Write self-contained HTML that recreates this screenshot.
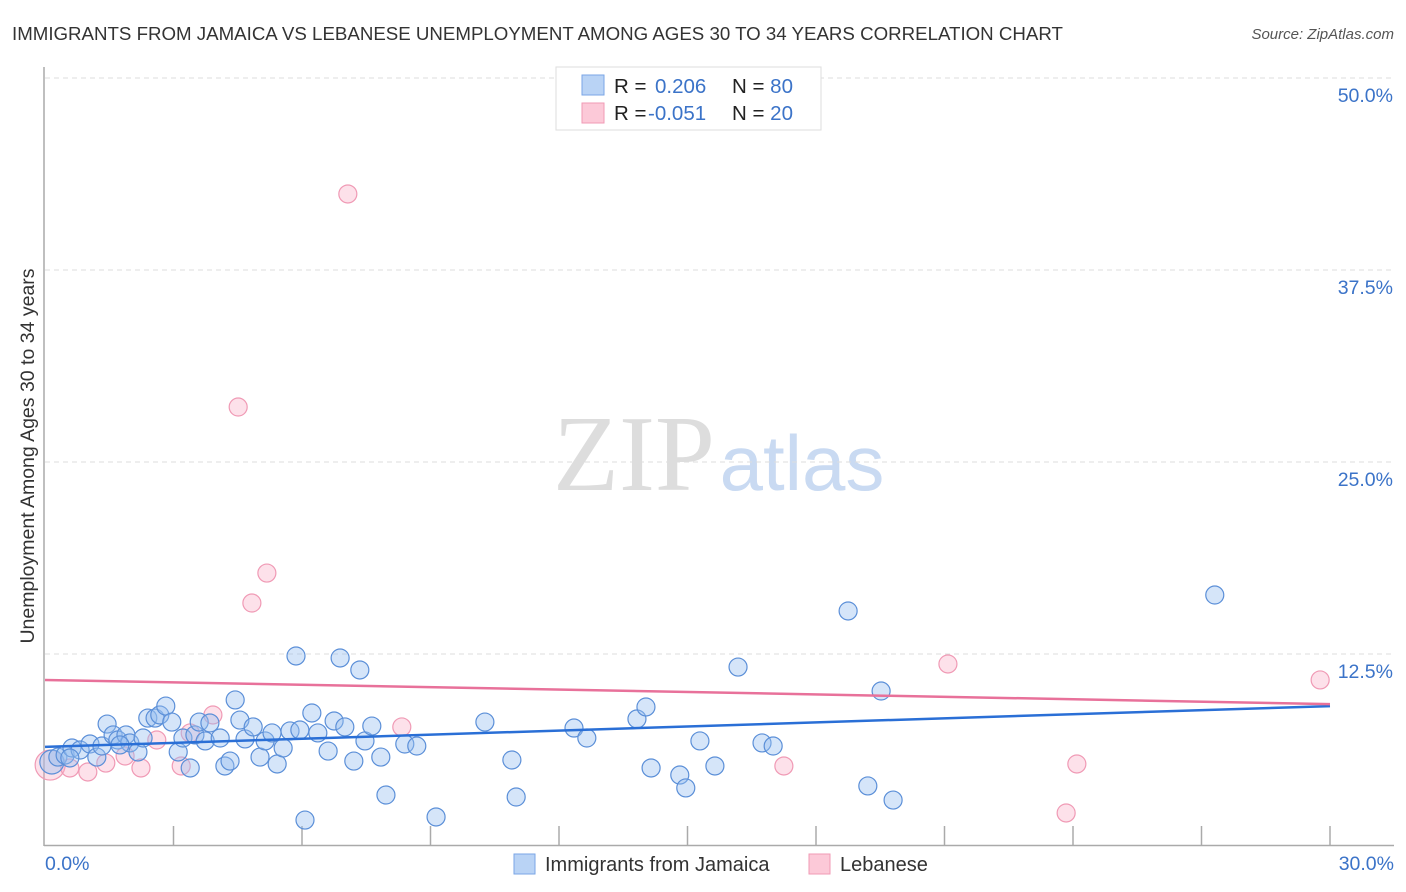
<!DOCTYPE html>
<html><head><meta charset="utf-8"><style>
body{margin:0;background:#fff;font-family:"Liberation Sans",sans-serif;}
#wrap{position:relative;width:1406px;height:892px;overflow:hidden;}
</style></head><body>
<div id="wrap">
<svg id="svg" width="1406" height="892" xmlns="http://www.w3.org/2000/svg">
<text x="12" y="40" font-size="18.7" fill="#333">IMMIGRANTS FROM JAMAICA VS LEBANESE UNEMPLOYMENT AMONG AGES 30 TO 34 YEARS CORRELATION CHART</text>
<text x="1394" y="39" font-size="15" fill="#555" font-style="italic" text-anchor="end">Source: ZipAtlas.com</text>
<text x="634" y="490" font-size="108" fill="#ddd" font-family="Liberation Serif,serif" text-anchor="middle">ZIP</text>
<text x="802" y="490" font-size="78" fill="#c9daf2" text-anchor="middle">atlas</text>
<text transform="translate(34,456) rotate(-90)" font-size="19.5" fill="#333" text-anchor="middle">Unemployment Among Ages 30 to 34 years</text>
<g id="grid"></g><g id="pts"></g><g id="lines"></g>
<g>
<rect x="556" y="67" width="265" height="63" fill="#fff" stroke="#ddd"/>
<rect x="582" y="75" width="22" height="20" fill="#b9d3f5" stroke="#7aa6e6"/>
<rect x="582" y="103" width="22" height="20" fill="#fcc9d8" stroke="#f09ab5"/>
<text x="614" y="93" font-size="20.5" fill="#222">R = <tspan fill="#3b73c8" x="655">0.206</tspan><tspan x="732">N = </tspan><tspan fill="#3b73c8">80</tspan></text>
<text x="614" y="120" font-size="20.5" fill="#222">R = <tspan fill="#3b73c8" x="648">-0.051</tspan><tspan x="732">N = </tspan><tspan fill="#3b73c8">20</tspan></text>
</g>
<g>
<rect x="514" y="854" width="21" height="20" fill="#b9d3f5" stroke="#7aa6e6"/>
<text x="545" y="871" font-size="20" fill="#333">Immigrants from Jamaica</text>
<rect x="809" y="854" width="21" height="20" fill="#fcc9d8" stroke="#f09ab5"/>
<text x="840" y="871" font-size="20" fill="#333">Lebanese</text>
</g>
</svg>
</div>
<script>
const blueX=[0.16,0.30,0.47,0.63,0.82,1.05,1.21,1.33,1.45,1.59,1.70,1.89,1.98,2.17,2.29,2.40,2.57,2.68,2.82,2.96,3.11,3.22,3.39,3.50,3.60,3.74,3.85,4.09,4.20,4.32,4.44,4.55,4.67,4.86,5.02,5.14,5.30,5.42,5.56,5.72,5.86,5.95,6.07,6.23,6.37,6.61,6.75,6.89,7.00,7.21,7.35,7.47,7.63,7.84,7.96,8.40,8.68,9.13,10.27,10.90,11.00,12.35,12.65,13.82,14.03,14.15,14.82,14.96,15.29,15.64,16.18,16.74,17.00,18.75,19.21,19.52,19.80,27.31,0.58,1.75];
const blueY=[5.47,5.79,5.92,6.38,6.25,6.64,5.79,6.51,7.94,7.23,6.90,7.23,6.71,6.12,7.03,8.33,8.33,8.53,9.11,8.07,6.12,7.03,5.08,7.23,8.07,6.84,8.01,7.03,5.21,5.53,9.51,8.20,6.97,7.75,5.79,6.84,7.36,5.34,6.38,7.49,12.37,7.55,1.69,8.66,7.36,6.18,8.14,12.24,7.75,5.53,11.46,6.84,7.81,5.79,3.32,6.64,6.51,1.89,8.07,5.60,3.19,7.68,7.03,8.27,9.05,5.08,4.62,3.78,6.84,5.21,11.65,6.71,6.51,15.30,3.91,10.09,2.99,16.34,5.73,6.58];
const pinkX=[0.12,0.58,1.00,1.42,1.87,2.24,2.61,3.18,3.39,3.92,4.51,4.83,5.18,7.07,8.33,17.25,21.08,23.84,24.09,29.77];
const pinkY=[5.27,5.08,4.82,5.40,5.86,5.08,6.90,5.21,7.36,8.53,28.58,15.82,17.77,42.45,7.75,5.21,11.85,2.15,5.34,10.81];
const blueTrend=[6.45,9.11];
const pinkTrend=[10.81,9.24];
const yTicks=[12.5,25,37.5,50];
const yTickLabels=["12.5%","25.0%","37.5%","50.0%"];
const xTicks=[3,6,9,12,15,18,21,24,27,30];
const NS="http://www.w3.org/2000/svg";
const sx=v=>45+v/30*1285, sy=v=>846-v/12.5*192;
function mk(tag,attrs,parent){const e=document.createElementNS(NS,tag);for(const k in attrs)e.setAttribute(k,attrs[k]);parent.appendChild(e);return e;}
const grid=document.getElementById('grid'),pts=document.getElementById('pts'),lines=document.getElementById('lines');
yTicks.forEach((t,i)=>{
 const l=mk('line',{x1:45,x2:1394,y1:sy(t),y2:sy(t),stroke:'#ddd','stroke-dasharray':'5,4'},grid);
 
 
 const tx=mk('text',{x:1393,y:sy(t)+24,'font-size':19.5,fill:'#3b73c8','text-anchor':'end'},grid);
 tx.textContent=yTickLabels[i];
 
 
});
const ax=mk('line',{x1:44,x2:44,y1:67,y2:846,stroke:'#aaa','stroke-width':1.5},grid);


const bx=mk('line',{x1:44,x2:1394,y1:845.5,y2:845.5,stroke:'#aaa','stroke-width':1.5},grid);


xTicks.forEach(t=>{
 const l=mk('line',{x1:sx(t),x2:sx(t),y1:826,y2:846,stroke:'#aaa','stroke-width':1.5},grid);
 
 
});
const xl0=mk('text',{x:45,y:870,'font-size':19.5,fill:'#3b73c8'},grid);xl0.textContent='0.0%';


const xl1=mk('text',{x:1394,y:870,'font-size':19.5,fill:'#3b73c8','text-anchor':'end'},grid);xl1.textContent='30.0%';


pinkX.forEach((x,i)=>{
 const c=mk('circle',{cx:sx(x),cy:sy(pinkY[i]),r:i==0?15:9,fill:'rgba(248,170,195,0.35)',stroke:'#f09ab5','stroke-width':1.2},pts);
 
 
});
blueX.forEach((x,i)=>{
 const c=mk('circle',{cx:sx(x),cy:sy(blueY[i]),r:i==0?12:9,fill:'rgba(150,190,240,0.4)',stroke:'#5b8fd8','stroke-width':1.2},pts);
 
 
});
const bl=mk('line',{x1:sx(0),y1:sy(blueTrend[0]),x2:sx(30),y2:sy(blueTrend[1]),stroke:'#2a6fd6','stroke-width':2.5},lines);


const pl=mk('line',{x1:sx(0),y1:sy(pinkTrend[0]),x2:sx(30),y2:sy(pinkTrend[1]),stroke:'#e8719a','stroke-width':2.5},lines);


</script>
</body></html>
